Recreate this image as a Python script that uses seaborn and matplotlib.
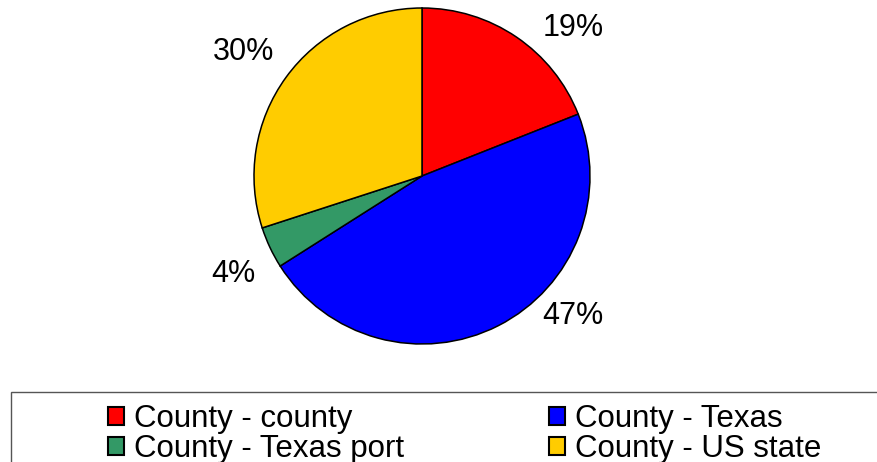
import matplotlib
matplotlib.use("Agg")
import matplotlib.pyplot as plt
from matplotlib.patches import Patch, Rectangle
import numpy as np
import seaborn as sns

# Share of trips by destination
categories = ["County - county", "County - Texas", "County - Texas port", "County - US state"]
shares = [19, 47, 4, 30]
colors = ["#FF0000", "#0000FF", "#339966", "#FFCC00"]

# Legend entries are filled column by column, so this order reads row by row
legend_order = [0, 2, 1, 3]

sns.set_theme(style="white")
plt.rcParams["font.family"] = ["Liberation Sans", "DejaVu Sans"]
plt.rcParams["text.color"] = "black"

W, H = 877, 462
fig = plt.figure(figsize=(W / 100, H / 100), dpi=100)
fig.patch.set_facecolor("white")

# Pie area: centre (422, 176) px, radius 168 px
cx, cy, r = 422, 176, 168
ax = fig.add_axes([(cx - r) / W, (H - cy - r) / H, 2 * r / W, 2 * r / H])
ax.axis("off")

wedges, _ = ax.pie(
    shares,
    colors=colors,
    startangle=90,
    counterclock=False,
    radius=1,
    wedgeprops=dict(edgecolor="black", linewidth=1.1),
)
ax.set_xlim(-1, 1)
ax.set_ylim(-1, 1)

# Percentage labels placed outside each slice
label_pos = [(0.899, 0.881), (0.899, -0.833), (-1.125, -0.583), (-1.06, 0.741)]
for val, (lx, ly) in zip(shares, label_pos):
    ax.text(lx, ly, f"{val}%", ha="center", va="center", fontsize=22,
            color="black", clip_on=False)

# Legend frame
fig.patches.append(Rectangle((11 / W, -0.05), 0.99, 1 - 392 / H + 0.05,
                             transform=fig.transFigure, fill=False,
                             edgecolor="#555555", linewidth=1.0))

handles = [Patch(facecolor=colors[i], edgecolor="black", linewidth=1.5) for i in legend_order]
labels = [categories[i] for i in legend_order]
leg = fig.legend(
    handles, labels, ncol=2, loc="upper left",
    bbox_to_anchor=(108 / W, 1 - 404 / H),
    frameon=False, fontsize=22.5, borderpad=0, borderaxespad=0,
    handlelength=0.5, handleheight=0.5, handletextpad=0.33,
    labelspacing=0.0, columnspacing=4.65,
)
for t in leg.get_texts():
    t.set_color("black")

fig.savefig("out.png", dpi=100, facecolor="white")
